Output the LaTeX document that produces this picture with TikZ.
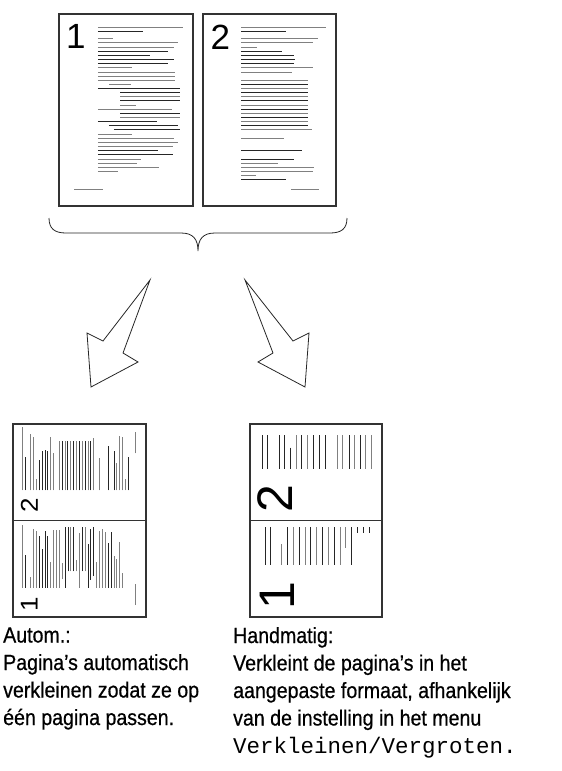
\documentclass[tikz,border=0pt]{standalone}
\usepackage{fontspec}
\setmainfont{Liberation Sans}
\setmonofont{Liberation Mono}
\newfontfamily\condfont{Liberation Sans}[FakeStretch=0.89, FakeBold=0.6]
\usepackage{tikz}
\usetikzlibrary{calc}
\tikzset{
  page/.style={draw=black!80, line width=1.1pt, fill=white, inner sep=0pt},
  ln/.style={line width=0.9pt, black!50},
  lnd/.style={line width=0.9pt, black!85},
  digit/.style={inner sep=0pt, font=\fontsize{35}{35}\selectfont},
  bigdigit/.style={digit, rotate=90, font=\fontsize{50}{50}\selectfont},
  bigarrow/.style={draw=black!85, line width=0.8pt, line join=miter},
  curly/.style={draw=black!85, line width=0.8pt},
  caption/.style={anchor=base west, align=left, inner sep=0pt,
    font=\condfont\fontsize{22}{27.5}\selectfont}
}

\newcommand\pageonetext[1]{%
  \node[digit] (#1) at (17.5,-23.5) {1};
  \foreach \a/\b/\v/\st in {39.3/124.3/13.7/ln, 39.3/84.3/18.3/lnd, 39.3/54.3/25.3/ln,
    39.3/119.3/29.3/ln, 39.3/116/33.7/ln, 39.3/109.3/38/lnd, 39.3/91.7/42/lnd,
    39.3/116/46.3/lnd, 39.3/109.3/50.3/lnd, 39.3/73.7/54.3/ln, 39.3/117/58.7/ln,
    39.3/117/62.7/ln, 39.3/117/66.7/ln, 51/72.7/71/ln, 39.3/122/75.3/lnd,
    61.7/122/79.3/lnd, 61.7/122/83.3/ln, 61.7/122/87.3/lnd, 61.7/77.7/91.7/ln,
    39.3/113.7/95.7/ln, 61.7/122/100/lnd, 61.7/122/104/ln, 39.3/98.7/108.3/lnd,
    50.3/119.3/112.3/lnd, 55.3/122/116.3/lnd, 39.3/73.7/120.7/ln, 39.3/116/124.7/ln,
    39.3/119.3/129/ln, 39.3/115/133/ln, 39.3/100/137.3/lnd, 39.3/115/141.3/lnd,
    39.3/82.7/145.7/ln, 39.3/78.7/149.7/ln, 39.3/101/153.7/ln, 39.3/60/158/ln}
    \draw[\st] (\a,-\v) -- (\b,-\v);
  \draw[ln] (16,-176) -- (44.3,-176);
}

\newcommand\pagetwotext[1]{%
  \node[digit] (#1) at (18,-23.5) {2};
  \foreach \a/\b/\v/\st in {38.7/123.7/13.7/ln, 38.7/83.7/18.3/lnd, 38.7/115.3/25.3/ln,
    38.7/110.3/29.3/ln, 38.7/54.3/33.7/ln, 38.7/79.7/38/lnd, 38.7/92/42/lnd,
    38.7/93/46.3/lnd, 38.7/91.3/50.3/lnd, 38.7/110.3/54.3/ln, 38.7/89.7/58.7/ln,
    38.7/105.3/66.7/ln, 38.7/105.3/70.8/lnd, 38.7/105.3/75/ln, 38.7/105.3/79.1/lnd,
    38.7/105.3/83.2/ln, 38.7/105.3/87.3/lnd, 38.7/105.3/91.5/ln, 38.7/105.3/95.6/lnd,
    38.7/105.3/99.7/ln, 38.7/105.3/103.9/lnd, 38.7/105.3/108/ln, 38.7/105.3/112.1/lnd,
    38.7/109.7/116.3/ln, 38.7/82/124.7/ln, 38.7/99.3/137.3/lnd, 38.7/92/145.7/lnd,
    38.7/75.3/149.7/ln, 38.7/112/153.7/ln, 38.7/110.3/158/ln, 38.7/53.7/162/ln,
    38.7/83.7/166/lnd}
    \draw[\st] (\a,-\v) -- (\b,-\v);
  \draw[ln] (88.7,-176) -- (117,-176);
}

\begin{document}
\begin{tikzpicture}[x=1pt, y=1pt]
  \useasboundingbox (0,0) rectangle (562,-771);

  \node[page, minimum width=134pt, minimum height=192pt] (p1) at (126,-110) {};
  \node[page, minimum width=133pt, minimum height=192pt] (p2) at (269.5,-110) {};
  \begin{scope}[shift={(p1.north west)}]
    \pageonetext{n1}
  \end{scope}
  \begin{scope}[shift={(p2.north west)}]
    \pagetwotext{n2}
  \end{scope}

  \coordinate (tip) at (198,-251);
  \draw[curly] (49,-218) .. controls (49,-229) and (55,-233) .. (66,-233) -- (181,-233)
    .. controls (193,-233) and (198,-239) .. (tip)
    .. controls (198,-239) and (203,-233) .. (215,-233) -- (330,-233)
    .. controls (341,-233) and (347,-229) .. (347,-218);

  \draw[bigarrow] (150,-280) -- (103,-341) -- (87,-333) -- (91,-387) -- (138,-362) -- (123,-353) -- cycle;
  \draw[bigarrow] (245,-280) -- (293,-341) -- (309,-333) -- (305,-387) -- (258,-362) -- (273,-353) -- cycle;

  % Autom.
  \node[page, minimum width=133pt, minimum height=193pt] (auto) at (79.5,-520.5) {};
  \draw[page] (auto.west) -- (auto.east);
  \begin{scope}[shift={(13,-519)}, rotate=90, xscale=0.74, yscale=0.694, transform shape]
    \pagetwotext{a2}
  \end{scope}
  \begin{scope}[shift={(13,-617)}, rotate=90, xscale=0.74, yscale=0.694, transform shape]
    \pageonetext{a1}
  \end{scope}

  % Handmatig
  \node[page, minimum width=132pt, minimum height=193pt] (hand) at (316,-520.5) {};
  \draw[page] (hand.west) -- (hand.east);
  \node[bigdigit] (h2) at (275,-499) {2};
  \node[bigdigit] (h1) at (277,-596) {1};
  \foreach \x/\st in {262.3/lnd, 267.3/lnd, 279/lnd, 284/lnd, 296/ln, 301.7/lnd, 307.3/ln,
    313.3/lnd, 319/lnd, 325/lnd, 337.3/ln, 342.7/ln, 349/lnd, 354.3/ln, 360/lnd, 365.7/ln, 371.3/ln}
    \draw[\st] (\x,-435) -- (\x,-469.3);
  \draw[lnd] (290,-447.7) -- (290,-469.3);
  \foreach \x/\st in {265.7/lnd, 270.7/lnd, 287.7/lnd, 293.3/ln, 299/lnd, 305/ln, 310.7/lnd,
    316.7/ln, 322.3/lnd, 328.3/ln, 334/lnd, 340/ln, 351.7/lnd}
    \draw[\st] (\x,-527.3) -- (\x,-565);
  \draw[ln] (281.7,-544) -- (281.7,-565);
  \draw[ln] (345.7,-527.3) -- (345.7,-548);
  \foreach \x in {357.3, 363.3, 369}
    \draw[lnd] (\x,-527.3) -- (\x,-533);

  \node[caption] (autotxt) at (3,-725) {Autom.:\\Pagina’s automatisch\\verkleinen zodat ze op\\één pagina passen.};
  \node[caption] (handtxt) at (233,-753) {Handmatig:\\Verkleint de pagina’s in het\\aangepaste formaat, afhankelijk\\van de instelling in het menu\\{\ttfamily\fontsize{22.5}{27.5}\selectfont Verkleinen/Vergroten.}};
\end{tikzpicture}
\end{document}
